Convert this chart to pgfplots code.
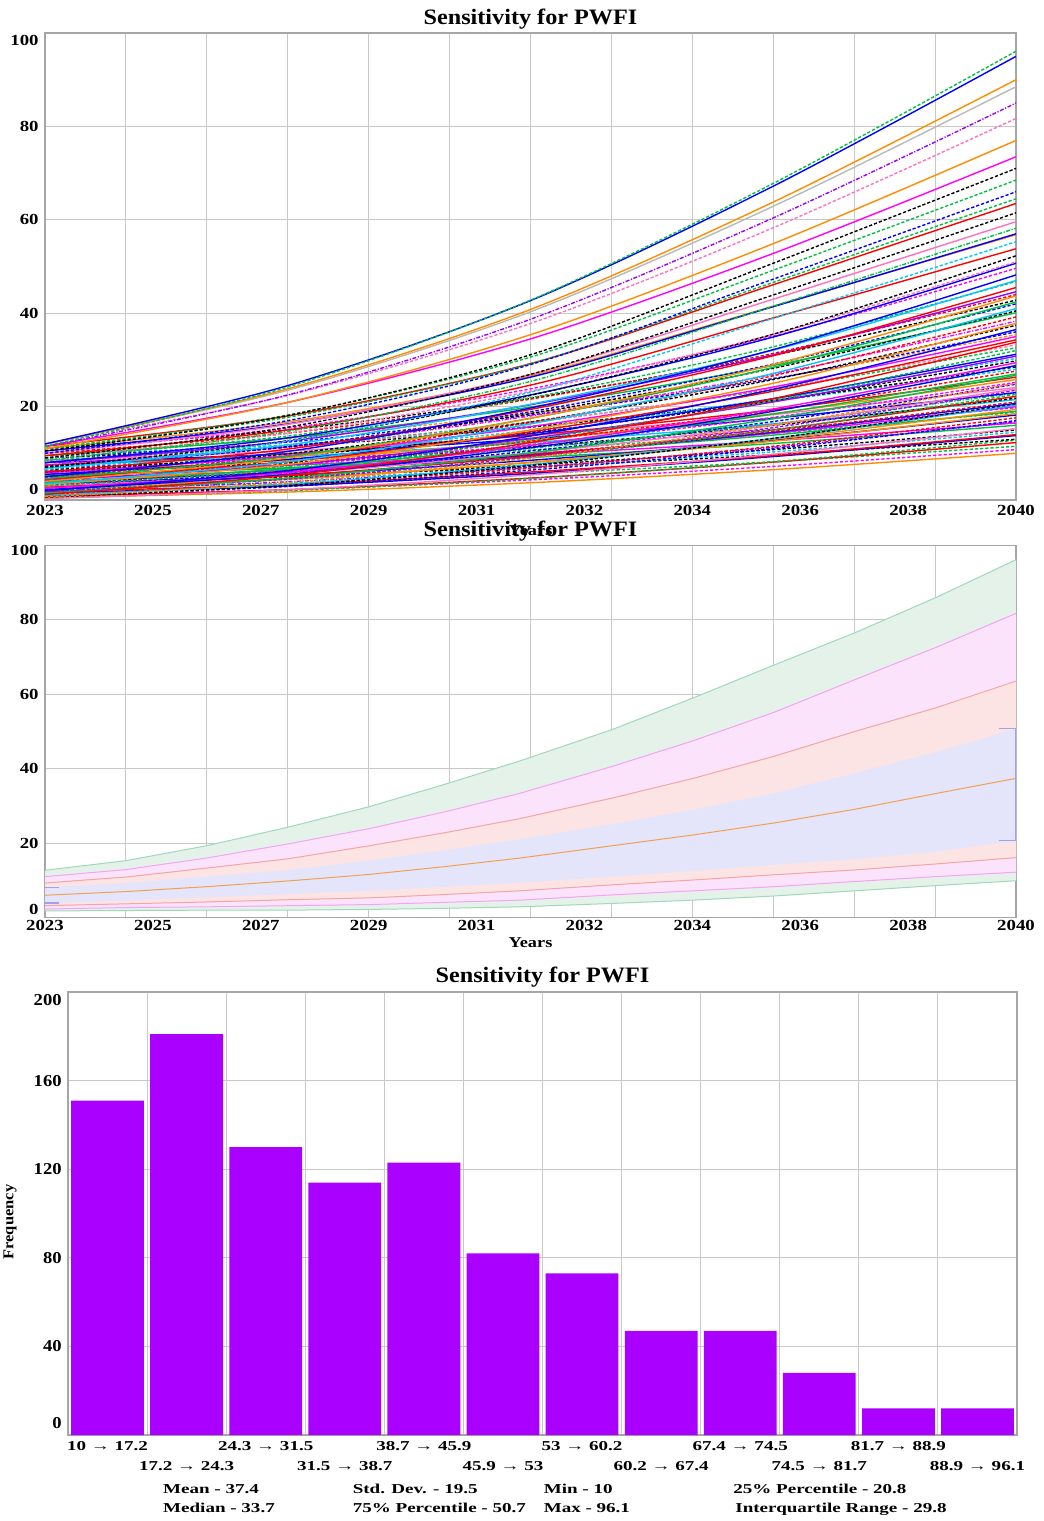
\documentclass[border=0pt]{standalone}
\usepackage{fontspec}
\setmainfont{Liberation Serif}
\newfontfamily\fTick[FakeStretch=1.22]{Liberation Serif}
\newfontfamily\fTitle[FakeStretch=1.1]{Liberation Serif}
\newfontfamily\fHist[FakeStretch=1.4]{Liberation Serif}
\newfontfamily\fHy[FakeStretch=1.12]{Liberation Serif}
\usepackage{pgfplots}
\pgfplotsset{compat=1.18}

\definecolor{gridc}{HTML}{C8C8C8}
\definecolor{axisc}{HTML}{A6A6A6}
\definecolor{gline}{HTML}{9FD9B8}
\definecolor{gfill}{HTML}{E4F2EA}
\definecolor{mline}{HTML}{F5A3F5}
\definecolor{mfill}{HTML}{FCE3FC}
\definecolor{sline}{HTML}{F5A5A5}
\definecolor{sfill}{HTML}{FCE4E4}
\definecolor{lfill}{HTML}{E4E4FB}
\definecolor{oline}{HTML}{F2A04E}
\definecolor{bedge}{HTML}{A0A0F0}
\definecolor{histc}{HTML}{AA00FF}
\definecolor{cblue}{HTML}{0000FF}
\definecolor{cred}{HTML}{FF0000}
\definecolor{cgreen}{HTML}{00C040}
\definecolor{corange}{HTML}{FF8C00}
\definecolor{cmag}{HTML}{FF00FF}
\definecolor{ccyan}{HTML}{00C8FF}
\definecolor{cpurple}{HTML}{9A00FF}
\definecolor{cpink}{HTML}{FF70C0}
\definecolor{cgray}{HTML}{B8B8B8}

\tikzset{dsh/.style={dash pattern=on 1.6pt off 1pt},
         dd/.style={dash pattern=on 2pt off 0.8pt on 0.6pt off 0.8pt}}

\pgfplotsset{
  sens/.style={
    scale only axis, width=485.5pt,
    xmin=2023, xmax=2040, ymin=0, ymax=100,
    xtick={2023,2024.889,2026.778,2028.667,2030.556,2032.444,2034.333,2036.222,2038.111,2040},
    xticklabels={2023,2025,2027,2029,2031,2032,2034,2036,2038,2040},
    minor xtick={2024.417,2025.833,2027.25,2028.667,2030.083,2031.5,2032.917,2034.333,2035.75,2037.167,2038.583},
    xmajorgrids=false, xminorgrids=true, ymajorgrids=true,
    ytick={0,20,40,60,80,100},
    tick style={draw=none},
    grid style={draw=gridc, line width=0.5pt},
    minor grid style={draw=gridc, line width=0.5pt},
    axis line style={draw=axisc, line width=0.6pt},
    tick label style={font=\fTick\bfseries\fontsize{7.7}{8}\selectfont},
    xticklabel style={anchor=base},
    yticklabel style={anchor=east, inner xsep=0pt, xshift=-3pt},
    title style={at={(0.5,1)}, anchor=base, font=\fTitle\bfseries\fontsize{11}{12}\selectfont},
    xlabel style={at={(axis description cs:0.5,0)}, anchor=base, font=\fTick\bfseries\fontsize{7.5}{8}\selectfont},
  }
}

\begin{document}
\begin{tikzpicture}
\useasboundingbox (0,0) rectangle (522pt,-760.5pt);

% ---------------- top: spaghetti ----------------
\begin{axis}[sens, at={(22.5pt,-250pt)}, anchor=south west, height=233.5pt,
  title={Sensitivity for PWFI}, title style={yshift=-1.5pt},
  xlabel={Years}, xlabel style={yshift=-17.5pt},
  xticklabel style={yshift=-7.5pt},
  yticklabels={\raisebox{5.5pt}[\height][\depth]{0},20,40,60,80,\raisebox{-3.5pt}[\height][\depth]{100}},
  every axis plot/.append style={smooth, line width=0.7pt}]
\addplot[corange] coordinates {(2023,0.5)(2027.25,1.7)(2031.5,3.7)(2035.75,6.5)(2040,10)};
\addplot[cmag,dsh] coordinates {(2023,1)(2027.25,2.2)(2031.5,4.3)(2035.75,7.2)(2040,10.8)};
\addplot[cgreen,dsh] coordinates {(2023,2.5)(2027.25,3.6)(2031.5,5.6)(2035.75,8.2)(2040,11.5)};
\addplot[cred] coordinates {(2023,0.8)(2027.25,2.2)(2031.5,4.7)(2035.75,8.1)(2040,12.3)};
\addplot[cgreen,dsh] coordinates {(2023,0.4)(2027.25,2.0)(2031.5,4.6)(2035.75,8.2)(2040,12.8)};
\addplot[black,dsh] coordinates {(2023,4)(2027.25,5.1)(2031.5,7.1)(2035.75,9.7)(2040,13)};
\addplot[cblue] coordinates {(2023,1.5)(2027.25,3.0)(2031.5,5.7)(2035.75,9.3)(2040,13.8)};
\addplot[cred] coordinates {(2023,1.8)(2027.25,3.3)(2031.5,6.0)(2035.75,9.5)(2040,14)};
\addplot[ccyan,dsh] coordinates {(2023,3)(2027.25,4.4)(2031.5,6.9)(2035.75,10.3)(2040,14.5)};
\addplot[black,dsh] coordinates {(2023,3.6)(2027.25,5.0)(2031.5,7.5)(2035.75,10.8)(2040,15)};
\addplot[cpink] coordinates {(2023,0.3)(2027.25,2.2)(2031.5,5.4)(2035.75,9.8)(2040,15.3)};
\addplot[cgreen] coordinates {(2023,5.5)(2027.25,6.8)(2031.5,9.1)(2035.75,12.1)(2040,16)};
\addplot[cmag] coordinates {(2023,6.2)(2027.25,7.5)(2031.5,9.7)(2035.75,12.7)(2040,16.5)};
\addplot[cpurple,dd] coordinates {(2023,2)(2027.25,3.9)(2031.5,7.0)(2035.75,11.3)(2040,16.8)};
\addplot[cblue,dsh] coordinates {(2023,0.9)(2027.25,2.9)(2031.5,6.4)(2035.75,11.0)(2040,17)};
\addplot[cred,dsh] coordinates {(2023,1.2)(2027.25,3.3)(2031.5,6.8)(2035.75,11.5)(2040,17.6)};
\addplot[cblue] coordinates {(2023,3.5)(2027.25,5.3)(2031.5,8.5)(2035.75,12.8)(2040,18.2)};
\addplot[corange] coordinates {(2023,2.6)(2027.25,4.6)(2031.5,8.0)(2035.75,12.6)(2040,18.5)};
\addplot[cgreen,dsh] coordinates {(2023,6.5)(2027.25,8.0)(2031.5,10.7)(2035.75,14.3)(2040,18.8)};
\addplot[cgreen] coordinates {(2023,5.2)(2027.25,6.9)(2031.5,9.9)(2035.75,13.9)(2040,19)};
\addplot[corange] coordinates {(2023,2.2)(2027.25,4.4)(2031.5,8.1)(2035.75,13.0)(2040,19.4)};
\addplot[cpurple,dsh] coordinates {(2023,7)(2027.25,8.6)(2031.5,11.4)(2035.75,15.1)(2040,19.8)};
\addplot[cmag] coordinates {(2023,4.5)(2027.25,6.4)(2031.5,9.8)(2035.75,14.3)(2040,20)};
\addplot[ccyan] coordinates {(2023,1)(2027.25,3.4)(2031.5,7.6)(2035.75,13.2)(2040,20.3)};
\addplot[black,dsh] coordinates {(2023,0.6)(2027.25,3.1)(2031.5,7.4)(2035.75,13.2)(2040,20.6)};
\addplot[cblue] coordinates {(2023,3.9)(2027.25,6.0)(2031.5,9.6)(2035.75,14.5)(2040,20.7)};
\addplot[cred,dsh] coordinates {(2023,4)(2027.25,6.1)(2031.5,9.8)(2035.75,14.7)(2040,21)};
\addplot[ccyan] coordinates {(2023,7.5)(2027.25,9.3)(2031.5,12.3)(2035.75,16.3)(2040,21.5)};
\addplot[black,dsh] coordinates {(2023,6)(2027.25,8.0)(2031.5,11.4)(2035.75,16.0)(2040,21.8)};
\addplot[cred] coordinates {(2023,2.8)(2027.25,5.2)(2031.5,9.4)(2035.75,15.0)(2040,22.2)};
\addplot[cgreen,dsh] coordinates {(2023,2)(2027.25,4.6)(2031.5,9.0)(2035.75,15.0)(2040,22.6)};
\addplot[cgreen,dd] coordinates {(2023,5)(2027.25,7.2)(2031.5,11.1)(2035.75,16.3)(2040,22.9)};
\addplot[cblue] coordinates {(2023,8)(2027.25,9.9)(2031.5,13.1)(2035.75,17.5)(2040,23)};
\addplot[cpurple,dsh] coordinates {(2023,1.8)(2027.25,4.5)(2031.5,9.2)(2035.75,15.5)(2040,23.5)};
\addplot[cpink] coordinates {(2023,3)(2027.25,5.6)(2031.5,10.1)(2035.75,16.1)(2040,23.8)};
\addplot[cpink] coordinates {(2023,8.5)(2027.25,10.5)(2031.5,13.8)(2035.75,18.3)(2040,24.1)};
\addplot[cblue,dsh] coordinates {(2023,3.2)(2027.25,5.9)(2031.5,10.5)(2035.75,16.8)(2040,24.8)};
\addplot[corange,dsh] coordinates {(2023,0.7)(2027.25,3.7)(2031.5,9.0)(2035.75,16.0)(2040,25)};
\addplot[cmag,dsh] coordinates {(2023,5)(2027.25,7.5)(2031.5,11.9)(2035.75,17.7)(2040,25.2)};
\addplot[corange] coordinates {(2023,6)(2027.25,8.5)(2031.5,12.7)(2035.75,18.5)(2040,25.8)};
\addplot[cred] coordinates {(2023,7.5)(2027.25,9.9)(2031.5,13.9)(2035.75,19.3)(2040,26.3)};
\addplot[cgreen] coordinates {(2023,1.5)(2027.25,4.7)(2031.5,10.1)(2035.75,17.4)(2040,26.7)};
\addplot[cgreen] coordinates {(2023,3.8)(2027.25,6.7)(2031.5,11.7)(2035.75,18.4)(2040,27)};
\addplot[cred,dsh] coordinates {(2023,4.8)(2027.25,7.7)(2031.5,12.6)(2035.75,19.2)(2040,27.6)};
\addplot[ccyan,dsh] coordinates {(2023,9.5)(2027.25,11.8)(2031.5,15.8)(2035.75,21.2)(2040,28)};
\addplot[black,dsh] coordinates {(2023,9)(2027.25,11.4)(2031.5,15.6)(2035.75,21.3)(2040,28.5)};
\addplot[cblue] coordinates {(2023,2.2)(2027.25,5.5)(2031.5,11.2)(2035.75,19.0)(2040,28.8)};
\addplot[cmag] coordinates {(2023,2.5)(2027.25,5.9)(2031.5,11.7)(2035.75,19.5)(2040,29.4)};
\addplot[black,dsh] coordinates {(2023,6.5)(2027.25,9.4)(2031.5,14.4)(2035.75,21.2)(2040,29.8)};
\addplot[ccyan,dsh] coordinates {(2023,7)(2027.25,9.9)(2031.5,14.9)(2035.75,21.7)(2040,30.3)};
\addplot[cpurple] coordinates {(2023,4.2)(2027.25,7.5)(2031.5,13.2)(2035.75,21.0)(2040,30.8)};
\addplot[cblue] coordinates {(2023,5.5)(2027.25,8.7)(2031.5,14.2)(2035.75,21.7)(2040,31.2)};
\addplot[cgreen,dsh] coordinates {(2023,3)(2027.25,6.6)(2031.5,12.9)(2035.75,21.3)(2040,32)};
\addplot[cgreen,dsh] coordinates {(2023,8.5)(2027.25,11.5)(2031.5,16.7)(2035.75,23.7)(2040,32.6)};
\addplot[cpink,dsh] coordinates {(2023,8)(2027.25,11.2)(2031.5,16.6)(2035.75,23.9)(2040,33.2)};
\addplot[cred] coordinates {(2023,1.2)(2027.25,5.3)(2031.5,12.3)(2035.75,21.7)(2040,33.8)};
\addplot[cred] coordinates {(2023,4.5)(2027.25,8.2)(2031.5,14.6)(2035.75,23.3)(2040,34.3)};
\addplot[cmag] coordinates {(2023,5.8)(2027.25,9.5)(2031.5,15.7)(2035.75,24.2)(2040,35)};
\addplot[corange,dsh] coordinates {(2023,10)(2027.25,13.2)(2031.5,18.6)(2035.75,26)(2040,35.4)};
\addplot[cblue,dsh] coordinates {(2023,9)(2027.25,12.4)(2031.5,18.2)(2035.75,26.0)(2040,36)};
\addplot[cblue] coordinates {(2023,2)(2027.25,6.3)(2031.5,13.7)(2035.75,23.7)(2040,36.5)};
\addplot[black,dsh] coordinates {(2023,6)(2027.25,9.9)(2031.5,16.7)(2035.75,25.8)(2040,37.4)};
\addplot[corange] coordinates {(2023,3.3)(2027.25,7.6)(2031.5,15.0)(2035.75,25.0)(2040,37.8)};
\addplot[cmag,dd] coordinates {(2023,7.5)(2027.25,11.4)(2031.5,18)(2035.75,26.9)(2040,38.3)};
\addplot[cred,dsh] coordinates {(2023,5)(2027.25,9.3)(2031.5,16.6)(2035.75,26.6)(2040,39.2)};
\addplot[cgreen] coordinates {(2023,9.5)(2027.25,13.3)(2031.5,19.9)(2035.75,28.8)(2040,40.1)};
\addplot[black,dsh] coordinates {(2023,7.2)(2027.25,11.4)(2031.5,18.5)(2035.75,28.2)(2040,40.5)};
\addplot[ccyan] coordinates {(2023,3.5)(2027.25,8.2)(2031.5,16.3)(2035.75,27.1)(2040,41)};
\addplot[cblue,dsh] coordinates {(2023,7)(2027.25,11.4)(2031.5,18.9)(2035.75,29.1)(2040,42)};
\addplot[cgreen] coordinates {(2023,4.6)(2027.25,9.3)(2031.5,17.5)(2035.75,28.4)(2040,42.4)};
\addplot[black,dsh] coordinates {(2023,11)(2027.25,15)(2031.5,21.8)(2035.75,31)(2040,42.8)};
\addplot[corange] coordinates {(2023,4)(2027.25,9)(2031.5,17.5)(2035.75,29)(2040,43.7)};
\addplot[cred,dsh] coordinates {(2023,10)(2027.25,14.3)(2031.5,21.6)(2035.75,31.4)(2040,44)};
\addplot[cpurple] coordinates {(2023,8)(2027.25,12.6)(2031.5,20.4)(2035.75,31.1)(2040,44.6)};
\addplot[cred] coordinates {(2023,6)(2027.25,10.9)(2031.5,19.4)(2035.75,30.9)(2040,45.5)};
\addplot[cgreen,dsh] coordinates {(2023,9)(2027.25,13.7)(2031.5,21.9)(2035.75,32.8)(2040,46.8)};
\addplot[ccyan] coordinates {(2023,6.8)(2027.25,11.8)(2031.5,20.5)(2035.75,32.1)(2040,47)};
\addplot[cblue] coordinates {(2023,5)(2027.25,10.4)(2031.5,19.7)(2035.75,32.2)(2040,48.2)};
\addplot[cmag,dsh] coordinates {(2023,10.5)(2027.25,15.4)(2031.5,23.8)(2035.75,35.1)(2040,49.6)};
\addplot[cblue] coordinates {(2023,8)(2027.25,13.3)(2031.5,22.5)(2035.75,34.9)(2040,50.7)};
\addplot[cpink,dsh] coordinates {(2023,9)(2027.25,14.3)(2031.5,23.3)(2035.75,35.5)(2040,51)};
\addplot[black,dsh] coordinates {(2023,7)(2027.25,12.7)(2031.5,22.4)(2035.75,35.5)(2040,52.3)};
\addplot[cred] coordinates {(2023,9.5)(2027.25,15)(2031.5,24.6)(2035.75,39.0)(2040,53.8)};
\addplot[ccyan,dsh] coordinates {(2023,6.5)(2027.25,12.6)(2031.5,23.1)(2035.75,38.9)(2040,55.3)};
\addplot[corange] coordinates {(2023,11)(2027.25,16.7)(2031.5,26.6)(2035.75,41.5)(2040,56.8)};
\addplot[cblue] coordinates {(2023,10.5)(2027.25,16.3)(2031.5,26.3)(2035.75,41.4)(2040,57)};
\addplot[cgreen,dd] coordinates {(2023,8.5)(2027.25,14.7)(2031.5,25.4)(2035.75,41.5)(2040,58.2)};
\addplot[cpink] coordinates {(2023,10)(2027.25,16.2)(2031.5,26.9)(2035.75,43.0)(2040,59.6)};
\addplot[black,dsh] coordinates {(2023,9)(2027.25,15.6)(2031.5,26.9)(2035.75,43.9)(2040,61.5)};
\addplot[cred] coordinates {(2023,11.5)(2027.25,18)(2031.5,29.2)(2035.75,46.1)(2040,63.5)};
\addplot[cgreen,dsh] coordinates {(2023,11)(2027.25,17.7)(2031.5,29.2)(2035.75,46.6)(2040,64.5)};
\addplot[cblue,dsh] coordinates {(2023,10)(2027.25,17)(2031.5,29)(2035.75,47.3)(2040,66)};
\addplot[cgreen,dsh] coordinates {(2023,11)(2027.25,18.2)(2031.5,30.6)(2035.75,49.2)(2040,68.5)};
\addplot[black,dsh] coordinates {(2023,10.5)(2027.25,18.1)(2031.5,31.1)(2035.75,50.7)(2040,71)};
\addplot[cmag] coordinates {(2023,11.5)(2027.25,20.9)(2031.5,34.5)(2035.75,52.8)(2040,73.5)};
\addplot[corange] coordinates {(2023,11)(2027.25,20.9)(2031.5,35.4)(2035.75,54.9)(2040,77)};
\addplot[cpink,dsh] coordinates {(2023,12)(2027.25,22.4)(2031.5,37.8)(2035.75,58.3)(2040,81.7)};
\addplot[cpurple,dd] coordinates {(2023,11.5)(2027.25,22.5)(2031.5,38.7)(2035.75,60.4)(2040,85)};
\addplot[cgray] coordinates {(2023,12)(2027.25,23.5)(2031.5,40.3)(2035.75,62.9)(2040,88.5)};
\addplot[corange] coordinates {(2023,12)(2027.25,23.8)(2031.5,40.8)(2035.75,63.8)(2040,90)};
\addplot[cblue] coordinates {(2023,12)(2027.25,24.5)(2031.5,42.7)(2035.75,67.2)(2040,95)};
\addplot[cgreen,dsh] coordinates {(2023,11.5)(2027.25,24.2)(2031.5,42.8)(2035.75,67.8)(2040,96.1)};
\end{axis}

% ---------------- middle: bands ----------------
\begin{axis}[sens, at={(22.5pt,-458.8pt)}, anchor=south west, height=186.2pt,
  title={Sensitivity for PWFI}, title style={yshift=-1.7pt},
  xlabel={Years}, xlabel style={yshift=-14.7pt},
  xticklabel style={yshift=-6.2pt},
  yticklabels={\raisebox{4.3pt}[\height][\depth]{0},20,40,60,80,\raisebox{-2.8pt}[\height][\depth]{100}}]
% max / min band
\addplot[fill=gfill, draw=none] coordinates {(2023,12.7)(2024.42,15.3)(2025.83,19.3)(2027.26,24.3)(2028.68,29.8)(2030,35.8)(2031.32,42.1)(2032.93,50.5)(2034.35,59.0)(2035.76,67.8)(2037.18,76.5)(2038.59,85.9)(2040,96.1)
 (2040,9.9)(2038.59,8.6)(2037.18,7.2)(2035.76,5.8)(2034.35,4.7)(2032.93,3.8)(2031.32,2.9)(2030,2.5)(2028.68,2.2)(2027.26,2.0)(2025.83,2.0)(2024.42,1.9)(2023,1.8)};
\addplot[fill=mfill, draw=none] coordinates {(2023,11.0)(2024.42,12.9)(2025.83,16.0)(2027.26,19.8)(2028.68,23.9)(2030,28.4)(2031.32,33.4)(2032.93,40.6)(2034.35,47.5)(2035.76,55.1)(2037.18,63.9)(2038.59,72.5)(2040,81.7)
 (2040,12.2)(2038.59,11.0)(2037.18,9.7)(2035.76,8.3)(2034.35,7.2)(2032.93,6.1)(2031.32,4.7)(2030,4.1)(2028.68,3.5)(2027.26,3.2)(2025.83,2.9)(2024.42,2.7)(2023,2.3)};
\addplot[fill=sfill, draw=none] coordinates {(2023,9.3)(2024.42,10.9)(2025.83,13.3)(2027.26,15.8)(2028.68,19.3)(2030,22.8)(2031.32,26.6)(2032.93,32.1)(2034.35,37.4)(2035.76,43.3)(2037.18,50.0)(2038.59,56.3)(2040,63.5)
 (2040,16.1)(2038.59,14.4)(2037.18,12.8)(2035.76,11.5)(2034.35,10.1)(2032.93,8.8)(2031.32,7.2)(2030,6.2)(2028.68,5.3)(2027.26,4.8)(2025.83,4.2)(2024.42,3.7)(2023,3.2)};
\addplot[fill=lfill, draw=none] coordinates {(2023,8.0)(2024.42,9.3)(2025.83,11.0)(2027.26,12.8)(2028.68,15.3)(2030,18.1)(2031.32,21.1)(2032.93,25.1)(2034.35,29.0)(2035.76,33.4)(2037.18,38.8)(2038.59,44.4)(2040,50.7)
 (2040,20.7)(2038.59,17.7)(2037.18,15.7)(2035.76,14.2)(2034.35,12.5)(2032.93,11.0)(2031.32,9.4)(2030,8.3)(2028.68,7.2)(2027.26,6.3)(2025.83,5.5)(2024.42,4.6)(2023,3.9)};
% boundary lines
\addplot[gline, line width=0.5pt] coordinates {(2023,12.7)(2024.42,15.3)(2025.83,19.3)(2027.26,24.3)(2028.68,29.8)(2030,35.8)(2031.32,42.1)(2032.93,50.5)(2034.35,59.0)(2035.76,67.8)(2037.18,76.5)(2038.59,85.9)(2040,96.1)};
\addplot[gline, line width=0.5pt] coordinates {(2023,1.8)(2024.42,1.9)(2025.83,2.0)(2027.26,2.0)(2028.68,2.2)(2030,2.5)(2031.32,2.9)(2032.93,3.8)(2034.35,4.7)(2035.76,5.8)(2037.18,7.2)(2038.59,8.6)(2040,9.9)};
\addplot[mline, line width=0.5pt] coordinates {(2023,11.0)(2024.42,12.9)(2025.83,16.0)(2027.26,19.8)(2028.68,23.9)(2030,28.4)(2031.32,33.4)(2032.93,40.6)(2034.35,47.5)(2035.76,55.1)(2037.18,63.9)(2038.59,72.5)(2040,81.7)};
\addplot[mline, line width=0.5pt] coordinates {(2023,2.3)(2024.42,2.7)(2025.83,2.9)(2027.26,3.2)(2028.68,3.5)(2030,4.1)(2031.32,4.7)(2032.93,6.1)(2034.35,7.2)(2035.76,8.3)(2037.18,9.7)(2038.59,11.0)(2040,12.2)};
\addplot[sline, line width=0.5pt] coordinates {(2023,9.3)(2024.42,10.9)(2025.83,13.3)(2027.26,15.8)(2028.68,19.3)(2030,22.8)(2031.32,26.6)(2032.93,32.1)(2034.35,37.4)(2035.76,43.3)(2037.18,50.0)(2038.59,56.3)(2040,63.5)};
\addplot[sline, line width=0.5pt] coordinates {(2023,3.2)(2024.42,3.7)(2025.83,4.2)(2027.26,4.8)(2028.68,5.3)(2030,6.2)(2031.32,7.2)(2032.93,8.8)(2034.35,10.1)(2035.76,11.5)(2037.18,12.8)(2038.59,14.4)(2040,16.1)};
\addplot[oline, line width=0.5pt] coordinates {(2023,6.0)(2024.42,7.0)(2025.83,8.3)(2027.26,9.85)(2028.68,11.6)(2030,13.7)(2031.32,16.0)(2032.93,19.3)(2034.35,22.2)(2035.76,25.4)(2037.18,29.1)(2038.59,33.3)(2040,37.4)};
\addplot[bedge, line width=0.6pt] coordinates {(2040,20.7)(2040,50.7)};
\addplot[bedge, line width=0.6pt] coordinates {(2039.7,50.7)(2040,50.7)};
\addplot[bedge, line width=0.6pt] coordinates {(2039.7,20.7)(2040,20.7)};
\addplot[bedge, line width=0.6pt] coordinates {(2023,8.0)(2023.25,8.0)};
\addplot[bedge, line width=0.6pt] coordinates {(2023,3.9)(2023.25,3.9)};
\end{axis}

% ---------------- bottom: histogram ----------------
\begin{axis}[scale only axis, at={(34pt,-717.5pt)}, anchor=south west,
  width=474.5pt, height=221.5pt,
  xmin=0, xmax=12, ymin=0, ymax=200,
  xtick={0.5,1.5,2.5,3.5,4.5,5.5,6.5,7.5,8.5,9.5,10.5,11.5},
  xticklabels={10 → 17.2,
    {\raisebox{-10pt}[\height][\depth]{17.2 → 24.3}},
    24.3 → 31.5,
    {\raisebox{-10pt}[\height][\depth]{31.5 → 38.7}},
    38.7 → 45.9,
    {\raisebox{-10pt}[\height][\depth]{45.9 → 53}},
    53 → 60.2,
    {\raisebox{-10pt}[\height][\depth]{60.2 → 67.4}},
    67.4 → 74.5,
    {\raisebox{-10pt}[\height][\depth]{74.5 → 81.7}},
    81.7 → 88.9,
    {\raisebox{-10pt}[\height][\depth]{88.9 → 96.1}}},
  minor xtick={1,2,3,4,5,6,7,8,9,10,11},
  xmajorgrids=false, xminorgrids=true, ymajorgrids=true,
  ytick={0,40,80,120,160,200},
  yticklabels={\raisebox{6pt}[\height][\depth]{0},40,80,120,160,\raisebox{-4pt}[\height][\depth]{200}},
  tick style={draw=none},
  grid style={draw=gridc, line width=0.5pt},
  minor grid style={draw=gridc, line width=0.5pt},
  axis line style={draw=axisc, line width=0.6pt},
  xticklabel style={anchor=base, yshift=-7.5pt, font=\fHist\bfseries\fontsize{6.8}{7}\selectfont},
  yticklabel style={anchor=east, inner xsep=0pt, xshift=-3pt, font=\fHy\bfseries\fontsize{8.3}{9}\selectfont},
  title={Sensitivity for PWFI},
  title style={at={(0.5,1)}, anchor=base, yshift=-1pt, font=\fTitle\bfseries\fontsize{11}{12}\selectfont},
]
\addplot[ybar, bar width=0.92, bar shift=0pt, fill=histc, draw=none] coordinates {
 (0.5,151) (1.5,181) (2.5,130) (3.5,114) (4.5,123) (5.5,82)
 (6.5,73) (7.5,47) (8.5,47) (9.5,28) (10.5,12) (11.5,12)};
\end{axis}

\node[rotate=90, font=\fTitle\bfseries\fontsize{7.5}{8}\selectfont] at (5pt,-611pt) {Frequency};

\begin{scope}[every node/.style={anchor=base west, inner sep=0pt, font=\fHist\bfseries\fontsize{6.8}{7}\selectfont}]
\node at (81.4pt,-746.5pt) {Mean - 37.4};
\node at (81.4pt,-756pt) {Median - 33.7};
\node at (176.2pt,-746.5pt) {Std. Dev. - 19.5};
\node at (176.2pt,-756pt) {75\% Percentile - 50.7};
\node at (271.7pt,-746.5pt) {Min - 10};
\node at (271.7pt,-756pt) {Max - 96.1};
\node at (366.5pt,-746.5pt) {25\% Percentile - 20.8};
\node at (367.5pt,-756pt) {Interquartile Range - 29.8};
\end{scope}
\end{tikzpicture}
\end{document}
